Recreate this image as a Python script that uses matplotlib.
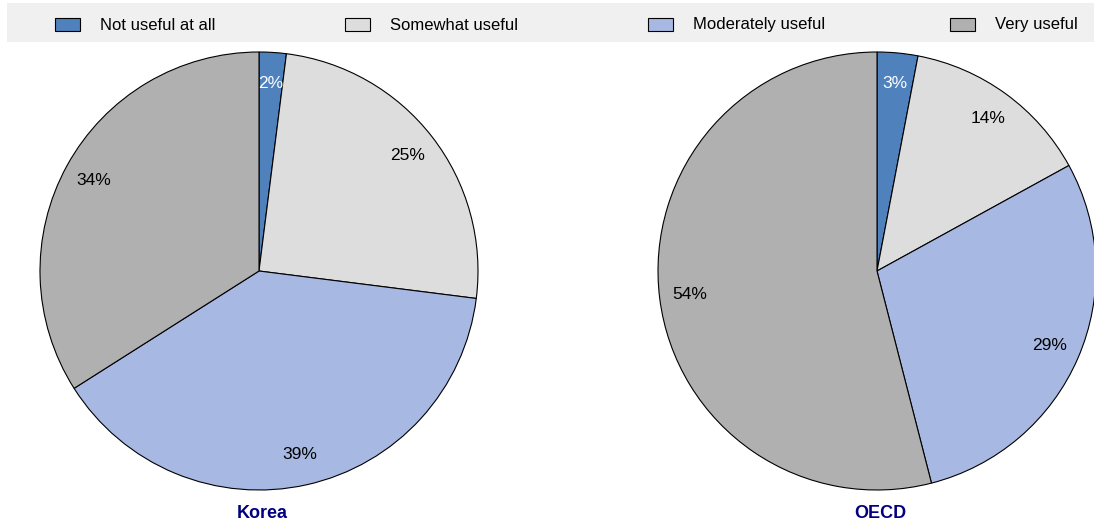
import matplotlib.pyplot as plt
from matplotlib.patches import Rectangle

categories = ["Not useful at all", "Somewhat useful", "Moderately useful", "Very useful"]
korea = [2, 25, 39, 34]
oecd = [3, 14, 29, 54]
panels = ["Korea", "OECD"]

colors = ["#4f81bd", "#dddddd", "#a7b8e2", "#b0b0b0"]
label_colors = ["white", "black", "black", "black"]

plt.rcParams["font.family"] = ["Liberation Sans", "DejaVu Sans"]

W, H = 1094, 527
fig = plt.figure(figsize=(W / 100, H / 100), dpi=100)

R = 219
centers = [(259, 271), (877, 271)]

for (cx, cy), values, name in zip(centers, [korea, oecd], panels):
    ax = fig.add_axes([(cx - R) / W, (H - cy - R) / H, 2 * R / W, 2 * R / H])
    wedges, texts = ax.pie(
        values, colors=colors, startangle=90, counterclock=False,
        labels=[f"{v}%" for v in values], labeldistance=0.86,
        wedgeprops=dict(edgecolor="black", linewidth=0.8),
        textprops=dict(fontsize=12.5),
    )
    for t, c in zip(texts, label_colors):
        t.set_color(c)
        t.set_horizontalalignment("center")
        t.set_verticalalignment("center")
    ax.set_xlim(-1, 1)
    ax.set_ylim(-1, 1)
    ax.set_aspect("equal")
    ax.axis("off")
    fig.text(cx / W + 0.003, 1 - 514 / H, name, ha="center", va="center",
             fontsize=13, fontweight="bold", color="#000080")

# Legend band across the top
fig.patches.append(Rectangle((7 / W, 1 - 42 / H), (W - 7) / W, 39 / H,
                             transform=fig.transFigure, facecolor="#f0f0f0",
                             edgecolor="none", zorder=0))
legend_x = [55, 345, 648, 950]
for x, label, c in zip(legend_x, categories, colors):
    fig.patches.append(Rectangle((x / W, 1 - 31 / H), 25 / W, 13 / H,
                                 transform=fig.transFigure, facecolor=c,
                                 edgecolor="black", linewidth=0.8, zorder=1))
    fig.text((x + 45) / W, 1 - 25 / H, label, ha="left", va="center",
             fontsize=12, zorder=2)

fig.savefig("out.png", dpi=100)
